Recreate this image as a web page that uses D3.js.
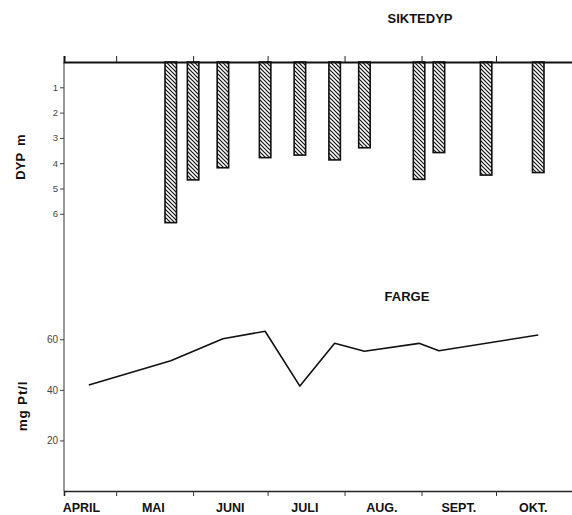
<!DOCTYPE html>
<html>
<head>
<meta charset="utf-8">
<script src="https://cdn.jsdelivr.net/npm/d3@7"></script>
<style>
    body { margin: 0; background: #fff; }
    text { font-family: "Liberation Sans", Arial, Helvetica, sans-serif; }
</style>
</head>
<body>
<div id="wrapper"></div>
<script>
// siktedyp (secchi depth, m) per sampling date
const depthDates = ['1980-05-23', '1980-06-01', '1980-06-13', '1980-06-30', '1980-07-14', '1980-07-28',
    '1980-08-09', '1980-08-31', '1980-09-08', '1980-09-27', '1980-10-18']
const depthValues = [6.35, 4.66, 4.18, 3.78, 3.68, 3.87, 3.39, 4.64, 3.58, 4.47, 4.37]

// farge (colour, mg Pt/l)
const colourDates = ['1980-04-20', '1980-05-23', '1980-06-13', '1980-06-30', '1980-07-14', '1980-07-28',
    '1980-08-09', '1980-08-31', '1980-09-08', '1980-10-18']
const colourValues = [41.9, 51.5, 60.2, 63.2, 41.5, 58.4, 55.3, 58.4, 55.5, 61.7]

const monthStarts = ['1980-05-01', '1980-06-01', '1980-07-01', '1980-08-01', '1980-09-01', '1980-10-01']
const monthLabels = ['APRIL', 'MAI', 'JUNI', 'JULI', 'AUG.', 'SEPT.', 'OKT.']
const monthLabelDates = ['1980-04-17', '1980-05-16', '1980-06-16', '1980-07-16', '1980-08-16', '1980-09-16', '1980-10-16']
const depthTicks = [1, 2, 3, 4, 5, 6]
const colourTicks = [20, 40, 60]

function drawChart() {
    const parse = d3.utcParse('%Y-%m-%d')

    const width = 572
    const height = 515
    const left = 64
    const topAxisY = 62
    const bottomAxisY = 491

    const svg = d3.select('#wrapper').append('svg')
        .attr('width', width)
        .attr('height', height)

    const defs = svg.append('defs')
    const pattern = defs.append('pattern')
        .attr('id', 'hatch')
        .attr('patternUnits', 'userSpaceOnUse')
        .attr('width', 4)
        .attr('height', 4)
    pattern.append('rect').attr('width', 4).attr('height', 4).attr('fill', '#fff')
    pattern.append('path')
        .attr('d', 'M-1,-1 L5,5 M-1,3 L1,5 M3,-1 L5,1')
        .attr('stroke', '#111')
        .attr('stroke-width', 1.2)

    const xScale = d3.scaleUtc()
        .domain([parse('1980-04-10'), parse('1980-11-01')])
        .range([left, 573])

    const yDepth = d3.scaleLinear()
        .domain([0, 1])
        .range([topAxisY, topAxisY + 25.3])
    const yColour = d3.scaleLinear()
        .domain([0, 60])
        .range([bottomAxisY, bottomAxisY - 151.7])

    // left axis line, shared by both panels
    svg.append('line')
        .attr('x1', left).attr('x2', left)
        .attr('y1', topAxisY).attr('y2', bottomAxisY)
        .attr('stroke', '#555')
        .attr('stroke-width', 1.2)

    // ---- SIKTEDYP ----
    const barW = 11.5
    svg.append('g').selectAll('rect')
        .data(depthValues)
        .enter()
        .append('rect')
        .attr('x', (d, i) => xScale(parse(depthDates[i])) - barW / 2)
        .attr('y', yDepth(0))
        .attr('width', barW)
        .attr('height', d => yDepth(d) - yDepth(0))
        .attr('fill', 'url(#hatch)')
        .attr('stroke', '#111')
        .attr('stroke-width', 1.6)

    const topAxis = d3.axisTop(xScale)
        .tickValues(monthStarts.map(parse))
        .tickSize(6)
        .tickFormat('')
    const gTop = svg.append('g')
        .attr('transform', `translate(0, ${topAxisY})`)
        .call(topAxis)
    gTop.select('.domain').attr('stroke', '#111').attr('stroke-width', 2)
    gTop.selectAll('.tick line').attr('stroke', '#222').attr('stroke-width', 1)

    const depthAxis = d3.axisLeft(yDepth)
        .tickValues(depthTicks)
        .tickFormat(d3.format('d'))
        .tickSize(4)
        .tickPadding(2)
    const gDepth = svg.append('g')
        .attr('transform', `translate(${left}, 0)`)
        .call(depthAxis)
    gDepth.select('.domain').remove()
    gDepth.selectAll('.tick line').attr('stroke', '#444')
    gDepth.selectAll('.tick text')
        .attr('fill', '#444')
        .style('font-size', '9.5px')

    svg.append('text')
        .attr('transform', `translate(25, 157) rotate(-90)`)
        .attr('text-anchor', 'middle')
        .style('font-size', '13px')
        .style('font-weight', 'bold')
        .attr('fill', '#111')
        .attr('xml:space', 'preserve')
        .text('DYP  m')

    svg.append('text')
        .attr('x', 420)
        .attr('y', 22.5)
        .attr('text-anchor', 'middle')
        .style('font-size', '13px')
        .style('font-weight', 'bold')
        .attr('fill', '#111')
        .text('SIKTEDYP')

    // ---- FARGE ----
    const line = d3.line()
        .x((d, i) => xScale(parse(colourDates[i])))
        .y(d => yColour(d))

    svg.append('path')
        .datum(colourValues)
        .attr('d', line)
        .attr('fill', 'none')
        .attr('stroke', '#111')
        .attr('stroke-width', 1.6)
        .attr('stroke-linejoin', 'round')

    const bottomAxis = d3.axisBottom(xScale)
        .tickValues(monthStarts.map(parse))
        .tickSize(5)
        .tickFormat('')
    const gBottom = svg.append('g')
        .attr('transform', `translate(0, ${bottomAxisY})`)
        .call(bottomAxis)
    gBottom.select('.domain').attr('stroke', '#222').attr('stroke-width', 1.6)
    gBottom.selectAll('.tick line').attr('stroke', '#333').attr('stroke-width', 1)

    const colourAxis = d3.axisLeft(yColour)
        .tickValues(colourTicks)
        .tickSize(4)
        .tickPadding(2)
    const gColour = svg.append('g')
        .attr('transform', `translate(${left}, 0)`)
        .call(colourAxis)
    gColour.select('.domain').remove()
    gColour.selectAll('.tick line').attr('stroke', '#444')
    gColour.selectAll('.tick text')
        .attr('fill', '#444')
        .style('font-size', '10px')

    svg.append('text')
        .attr('transform', `translate(27, 406) rotate(-90)`)
        .attr('text-anchor', 'middle')
        .style('font-size', '13.5px')
        .style('font-weight', 'bold')
        .style('letter-spacing', '0.8px')
        .attr('fill', '#111')
        .text('mg Pt/l')

    svg.append('text')
        .attr('x', 407)
        .attr('y', 300.5)
        .attr('text-anchor', 'middle')
        .style('font-size', '13px')
        .style('font-weight', 'bold')
        .attr('fill', '#111')
        .text('FARGE')

    svg.append('g').selectAll('text')
        .data(monthLabels)
        .enter()
        .append('text')
        .attr('x', (d, i) => xScale(parse(monthLabelDates[i])))
        .attr('y', 512)
        .attr('text-anchor', 'middle')
        .style('font-size', '12.5px')
        .style('font-weight', 'bold')
        .attr('fill', '#111')
        .text(d => d)
}

drawChart()
</script>
</body>
</html>
